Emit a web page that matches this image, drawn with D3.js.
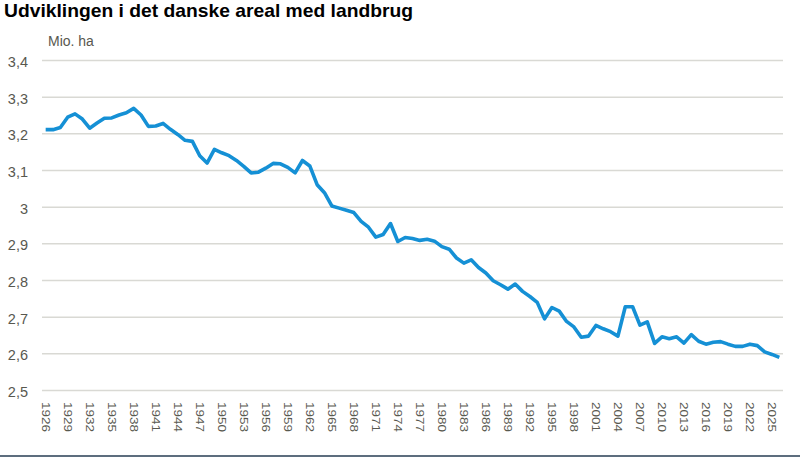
<html>
    <head>
        <title>Udviklingen i det danske areal med landbrug</title>
        <style>
            body { margin: 0; background: #fff; }
            svg text { font-family: "Liberation Sans", Arial, sans-serif; }
        </style>
    </head>
    <body>
        <div id="chart"></div>

        <script src="https://d3js.org/d3.v7.min.js"></script>
        <script>
            // år 1926-2026
            const years = d3.range(1926, 2027);

            // mio. ha landbrugsareal
            const area = [
                3.210, 3.210, 3.216, 3.244, 3.253, 3.239, 3.214, 3.228, 3.241, 3.242,
                3.250, 3.256, 3.268, 3.250, 3.219, 3.220, 3.227, 3.211, 3.197, 3.181,
                3.178, 3.139, 3.119, 3.156, 3.147, 3.139, 3.126, 3.110, 3.092, 3.094,
                3.105, 3.118, 3.117, 3.107, 3.092, 3.126, 3.111, 3.060, 3.038, 3.002,
                2.996, 2.990, 2.984, 2.960, 2.944, 2.917, 2.924, 2.954, 2.905, 2.916,
                2.913, 2.908, 2.911, 2.906, 2.891, 2.884, 2.860, 2.846, 2.855, 2.834,
                2.819, 2.798, 2.787, 2.775, 2.789, 2.769, 2.755, 2.739, 2.694, 2.725,
                2.715, 2.687, 2.672, 2.644, 2.647, 2.676, 2.667, 2.659, 2.647, 2.727,
                2.727, 2.677, 2.686, 2.627, 2.645, 2.640, 2.645, 2.628, 2.651, 2.633,
                2.625, 2.630, 2.632, 2.625, 2.619, 2.619, 2.625, 2.621, 2.604, 2.597,
                2.589
            ];

            const yTicks = [2.5, 2.6, 2.7, 2.8, 2.9, 3.0, 3.1, 3.2, 3.3, 3.4];
            const xTickYears = [1926, 1929, 1932, 1935, 1938, 1941, 1944, 1947, 1950, 1953,
                1956, 1959, 1962, 1965, 1968, 1971, 1974, 1977, 1980, 1983, 1986, 1989,
                1992, 1995, 1998, 2001, 2004, 2007, 2010, 2013, 2016, 2019, 2022, 2025];

            const width = 800, height = 459;
            const plot = {left: 42, right: 783, top: 60, bottom: 390};
            const textColor = "#58584f";

            const da = d3.formatLocale({decimal: ",", thousands: ".", grouping: [3], currency: ["", " kr."]});
            const fmt = da.format("~g");

            const svg = d3.select("#chart").append("svg")
                .attr("width", width)
                .attr("height", height);

            const x = d3.scaleBand()
                .domain(years)
                .range([plot.left, plot.right]);

            const y = d3.scaleLinear()
                .domain([2.5, 3.4])
                .range([plot.bottom, plot.top]);

            // title
            svg.append("text")
                .attr("x", 4)
                .attr("y", 17)
                .attr("font-size", 18.5)
                .attr("font-weight", "bold")
                .attr("fill", "#000")
                .attr("textLength", 409)
                .attr("lengthAdjust", "spacingAndGlyphs")
                .text("Udviklingen i det danske areal med landbrug");

            svg.append("text")
                .attr("x", 48)
                .attr("y", 46)
                .attr("font-size", 14)
                .attr("fill", textColor)
                .text("Mio. ha");

            // y axis + gridlines
            const yAxis = svg.append("g")
                .attr("transform", `translate(${plot.left},0)`)
                .call(d3.axisLeft(y)
                    .tickValues(yTicks)
                    .tickSize(-(plot.right - plot.left))
                    .tickPadding(14)
                    .tickFormat(fmt));

            yAxis.select(".domain").remove();
            yAxis.selectAll(".tick line")
                .attr("stroke", "#d9d9d4")
                .attr("stroke-width", 1.5);
            yAxis.selectAll(".tick text")
                .attr("font-size", 14.5)
                .attr("fill", textColor)
                .attr("dy", "0.32em")
                .attr("y", 2);

            // x axis
            const xAxis = svg.append("g")
                .attr("transform", `translate(0,${plot.bottom})`)
                .call(d3.axisBottom(x)
                    .tickValues(xTickYears)
                    .tickSize(0));

            xAxis.select(".domain").remove();
            xAxis.selectAll(".tick text")
                .attr("font-size", 11.5)
                .attr("fill", textColor)
                .attr("text-anchor", "start")
                .attr("transform", "rotate(90)")
                .attr("x", 12)
                .attr("y", 0)
                .attr("dy", "0.35em")
                .attr("textLength", 30)
                .attr("lengthAdjust", "spacingAndGlyphs");

            // line
            const line = d3.line()
                .x((d, i) => x(years[i]) + x.bandwidth() / 2)
                .y(d => y(d));

            svg.append("path")
                .datum(area)
                .attr("fill", "none")
                .attr("stroke", "#1590d5")
                .attr("stroke-width", 3.6)
                .attr("stroke-linejoin", "round")
                .attr("d", line);

            // bottom border
            svg.append("line")
                .attr("x1", 0)
                .attr("x2", width)
                .attr("y1", 456)
                .attr("y2", 456)
                .attr("stroke", "#5d6d7e")
                .attr("stroke-width", 2);
        </script>
    </body>
</html>
